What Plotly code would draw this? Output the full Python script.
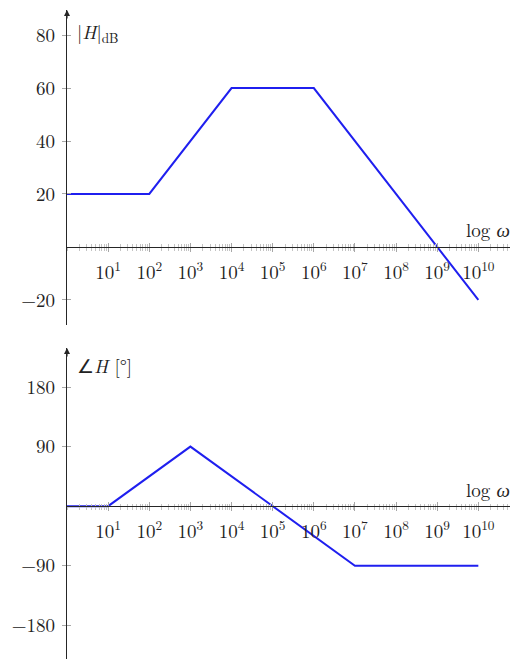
import plotly.graph_objects as go

# ---- data ----
omega_mag = [1, 1e2, 1e4, 1e6, 1e10]
mag_db = [20, 20, 60, 60, -20]
omega_phase = [1, 1e1, 1e3, 1e7, 1e10]
phase_deg = [0, 0, 90, -90, -90]

x_tick_exps = list(range(1, 11))
x_tick_vals = [10 ** e for e in x_tick_exps]
x_tick_text = [f"10<sup>{e}</sup>" for e in x_tick_exps]
x_minor_vals = [k * 10 ** n for n in range(0, 11) for k in range(2, 10)] + [10 ** n for n in range(0, 12)]

mag_ticks = [-20, 20, 40, 60, 80]
mag_tick_text = ["\u221220", "20", "40", "60", "80"]
phase_ticks = [-180, -90, 90, 180]
phase_tick_text = ["\u2212180", "\u221290", "90", "180"]

# ---- layout geometry ----
W, H = 510, 659
ML, MT = 67, 10
ph = H - MT
top_dom = [(H - 325) / ph, 1.0]
bot_dom = [0.0, (H - 348) / ph]
top_range = [-29.5, 89.5]
bot_range = [-231, 239]
x_range = [0, 10.77]

def zero_pos(dom, rng):
    return dom[0] + (0 - rng[0]) / (rng[1] - rng[0]) * (dom[1] - dom[0])

FONT = "Latin Modern Roman, CMU Serif, Liberation Serif, serif"
FS = 19
AX = "#262626"
TK = "#a8a8a8"
TKM = "#c4c4c4"
BLUE = "#1f1fef"

fig = go.Figure()
fig.add_trace(go.Scatter(x=omega_mag, y=mag_db, mode="lines",
                         line=dict(color=BLUE, width=2), xaxis="x", yaxis="y",
                         showlegend=False, hoverinfo="skip"))
fig.add_trace(go.Scatter(x=omega_phase, y=phase_deg, mode="lines",
                         line=dict(color=BLUE, width=2), xaxis="x2", yaxis="y2",
                         showlegend=False, hoverinfo="skip"))
# empty traces for overlay tick axes
fig.add_trace(go.Scatter(x=[], y=[], xaxis="x3", yaxis="y3", showlegend=False))
fig.add_trace(go.Scatter(x=[], y=[], xaxis="x4", yaxis="y4", showlegend=False))

def xaxis_main(dom_y, rng_y):
    return dict(type="log", range=x_range, domain=[0, 1], anchor="free",
                position=zero_pos(dom_y, rng_y), automargin=False,
                showline=True, linecolor=AX, linewidth=1.2,
                tickvals=x_tick_vals, ticktext=x_tick_text,
                ticks="outside", ticklen=4, tickcolor=TK, tickwidth=1,
                ticklabelstandoff=4,
                minor=dict(tickvals=x_minor_vals, ticks="outside", ticklen=2.5,
                           tickcolor=TKM, tickwidth=1),
                showgrid=False, zeroline=False,
                tickfont=dict(family=FONT, size=FS, color="#222"))

def xaxis_over(base, dom_y, rng_y):
    return dict(type="log", range=x_range, overlaying=base, anchor="free",
                position=zero_pos(dom_y, rng_y), showline=False, automargin=False,
                tickvals=x_tick_vals, showticklabels=False,
                ticks="inside", ticklen=4, tickcolor=TK, tickwidth=1,
                minor=dict(tickvals=x_minor_vals, ticks="inside", ticklen=2.5,
                           tickcolor=TKM, tickwidth=1),
                showgrid=False, zeroline=False)

def yaxis_main(dom, rng, vals, text, anchor):
    return dict(range=rng, domain=dom, anchor=anchor, showline=True,
                linecolor=AX, linewidth=1.2, automargin=False,
                tickvals=vals, ticktext=text, ticks="outside", ticklen=4,
                tickcolor=TK, tickwidth=1, ticklabelstandoff=3,
                showgrid=False, zeroline=False,
                tickfont=dict(family=FONT, size=FS, color="#222"))

def yaxis_over(base, rng, vals, anchor):
    return dict(range=rng, overlaying=base, anchor=anchor, showline=False,
                automargin=False,
                tickvals=vals, showticklabels=False, ticks="inside", ticklen=4,
                tickcolor=TK, tickwidth=1, showgrid=False, zeroline=False)

fig.update_layout(
    width=W, height=H,
    margin=dict(l=ML, r=0, t=MT, b=0, autoexpand=False),
    paper_bgcolor="white", plot_bgcolor="white",
    xaxis=xaxis_main(top_dom, top_range),
    xaxis2=xaxis_main(bot_dom, bot_range),
    xaxis3=xaxis_over("x", top_dom, top_range),
    xaxis4=xaxis_over("x2", bot_dom, bot_range),
    yaxis=yaxis_main(top_dom, top_range, mag_ticks, mag_tick_text, "x"),
    yaxis2=yaxis_main(bot_dom, bot_range, phase_ticks, phase_tick_text, "x2"),
    yaxis3=yaxis_over("y", top_range, mag_ticks, "x3"),
    yaxis4=yaxis_over("y2", bot_range, phase_ticks, "x4"),
)

annots = []
# arrow heads on y axes
for yref in ["y domain", "y2 domain"]:
    annots.append(dict(x=0, y=1, xref="paper", yref=yref, ax=0, ay=10,
                       showarrow=True, arrowhead=2, arrowsize=1, arrowwidth=1.2,
                       arrowcolor=AX, text="", standoff=0))
# axis labels
annots.append(dict(x=8 / (W - ML), y=(H - 33 - (H - 325)) / (325 - MT), xref="paper",
                   yref="y domain", xanchor="left", yanchor="middle", showarrow=False,
                   text="|<i>H</i>|<sub>dB</sub>", font=dict(family=FONT, size=FS, color="#222")))
annots.append(dict(x=8 / (W - ML), y=(H - 365) / (H - 348), xref="paper",
                   yref="y2 domain", xanchor="left", yanchor="middle", showarrow=False,
                   text="\u2220<i>H</i> [\u00b0]", font=dict(family=FONT, size=FS, color="#222")))
annots.append(dict(x=1.0, y=0, xref="paper", yref="y", yshift=17, xshift=2,
                   xanchor="right", yanchor="middle", showarrow=False,
                   text="log <i>\u03c9</i>", font=dict(family=FONT, size=FS, color="#222")))
annots.append(dict(x=1.0, y=0, xref="paper", yref="y2", yshift=17, xshift=2,
                   xanchor="right", yanchor="middle", showarrow=False,
                   text="log <i>\u03c9</i>", font=dict(family=FONT, size=FS, color="#222")))
fig.update_layout(annotations=annots)

fig.write_html("out.html", config={"displayModeBar": False},
               post_script="document.body.style.margin='0';document.body.style.overflow='hidden';")
